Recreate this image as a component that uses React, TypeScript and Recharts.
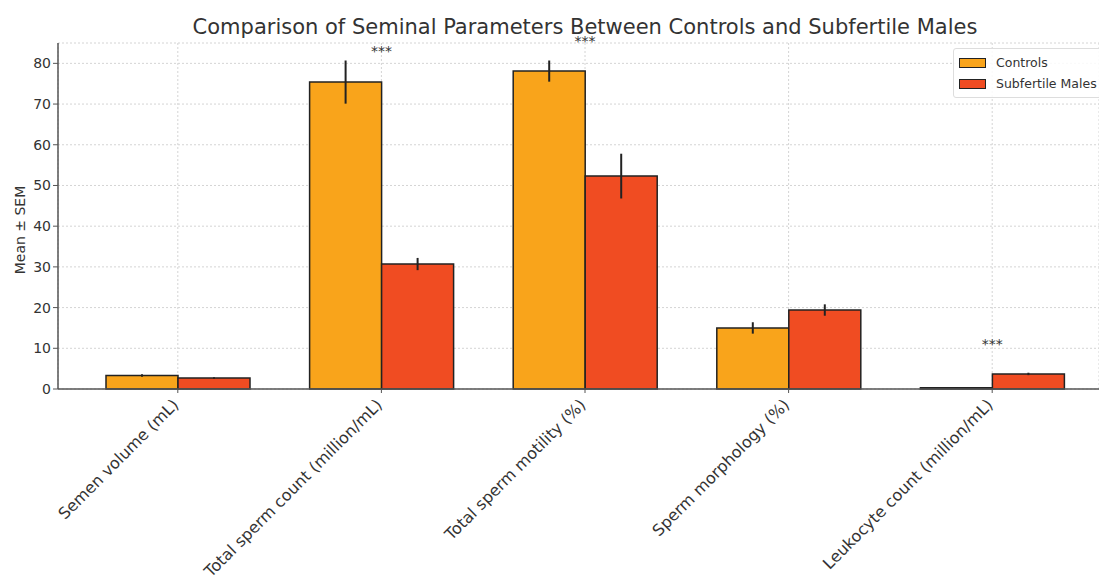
import {
  ComposedChart,
  Bar,
  XAxis,
  YAxis,
  CartesianGrid,
  ErrorBar,
  Scatter,
} from 'recharts';

const categories = [
  'Semen volume (mL)',
  'Total sperm count (million/mL)',
  'Total sperm motility (%)',
  'Sperm morphology (%)',
  'Leukocyte count (million/mL)',
];
const controls = [3.3, 75.4, 78.1, 15.0, 0.3];
const controlsSem = [0.3, 5.3, 2.6, 1.4, 0.05];
const subfertile = [2.7, 30.7, 52.3, 19.4, 3.7];
const subfertileSem = [0.2, 1.5, 5.5, 1.4, 0.3];
// baseline height of the "***" markers (null where no marker)
const stars = [null, 81.8, 84.3, null, 9.8];
const yTicks = [0, 10, 20, 30, 40, 50, 60, 70, 80];

const CONTROL_COLOR = '#F9A41B';
const SUB_COLOR = '#F04C22';
const FONT = '"DejaVu Sans", sans-serif';

const data = categories.map((name, i) => ({
  name,
  controls: controls[i],
  controlsSem: controlsSem[i],
  subfertile: subfertile[i],
  subfertileSem: subfertileSem[i],
  star: stars[i],
}));

function XTick(props: any) {
  const { x, y, payload } = props;
  return (
    <g transform={`translate(${x - 6},${y + 3})`}>
      <text
        x={0}
        y={0}
        dy={11}
        textAnchor="end"
        transform="rotate(-45)"
        fontSize={16}
        fontFamily={FONT}
        fill="#333"
      >
        {payload.value}
      </text>
    </g>
  );
}

function StarShape(props: any) {
  const { cx, cy, payload } = props;
  if (payload == null || payload.star == null || cy == null || isNaN(cy)) return null;
  return (
    <text
      x={cx}
      y={cy}
      textAnchor="middle"
      fontSize={14}
      fontFamily={FONT}
      fill="#333"
    >
      ***
    </text>
  );
}

function LegendBox() {
  const item = (color: string, label: string) => (
    <div style={{ display: 'flex', alignItems: 'center', height: 21 }}>
      <span
        style={{
          display: 'inline-block',
          width: 25,
          height: 8,
          background: color,
          border: '1px solid #222',
          marginRight: 10,
        }}
      />
      <span style={{ fontSize: 12.5, fontFamily: FONT, color: '#333' }}>{label}</span>
    </div>
  );
  return (
    <div
      style={{
        position: 'absolute',
        left: 953,
        top: 48,
        border: '1px solid #ddd',
        borderRadius: 3,
        background: 'rgba(255,255,255,0.85)',
        padding: '3px 6px 3px 5px',
        width: 155,
        boxSizing: 'border-box',
      }}
    >
      {item(CONTROL_COLOR, 'Controls')}
      {item(SUB_COLOR, 'Subfertile Males')}
    </div>
  );
}

export default function App() {
  return (
    <div
      style={{
        position: 'absolute',
        left: 0,
        top: 0,
        width: 1099,
        height: 575,
        overflow: 'hidden',
        background: '#fff',
      }}
    >
      <div
        style={{
          position: 'absolute',
          left: 0,
          width: 1170,
          top: 15,
          textAlign: 'center',
          fontSize: 21,
          fontFamily: FONT,
          color: '#333',
        }}
      >
        Comparison of Seminal Parameters Between Controls and Subfertile Males
      </div>
      <div
        style={{
          position: 'absolute',
          left: 20,
          top: 230,
          transform: 'translate(-50%, -50%) rotate(-90deg)',
          fontSize: 14,
          fontFamily: FONT,
          color: '#333',
          whiteSpace: 'nowrap',
        }}
      >
        Mean ± SEM
      </div>
      <ComposedChart
        width={1099}
        height={575}
        data={data}
        margin={{ top: 43, right: 0, bottom: 0, left: 8 }}
        barCategoryGap={30}
        barGap={0}
        style={{ position: 'absolute', left: 0, top: 0 }}
      >
        <CartesianGrid stroke="#d4d4d4" strokeDasharray="2 2" />
        <XAxis
          dataKey="name"
          type="category"
          height={186}
          padding={{ left: 18, right: 5 }}
          axisLine={{ stroke: '#555', strokeWidth: 1.5 }}
          tickLine={{ stroke: '#555' }}
          tickSize={4}
          interval={0}
          tick={<XTick />}
        />
        <YAxis
          domain={[0, 85]}
          ticks={yTicks}
          width={50}
          axisLine={{ stroke: '#555', strokeWidth: 1.5 }}
          tickLine={{ stroke: '#555' }}
          tickSize={5}
          tick={{ fontSize: 14, fontFamily: FONT, fill: '#333' }}
        />
        <Bar
          dataKey="controls"
          name="Controls"
          fill={CONTROL_COLOR}
          stroke="#222"
          strokeWidth={1.5}
          isAnimationActive={false}
        >
          <ErrorBar dataKey="controlsSem" width={0} stroke="#222" strokeWidth={2} direction="y" />
        </Bar>
        <Bar
          dataKey="subfertile"
          name="Subfertile Males"
          fill={SUB_COLOR}
          stroke="#222"
          strokeWidth={1.5}
          isAnimationActive={false}
        >
          <ErrorBar dataKey="subfertileSem" width={0} stroke="#222" strokeWidth={2} direction="y" />
        </Bar>
        <Scatter
          dataKey="star"
          shape={<StarShape />}
          legendType="none"
          isAnimationActive={false}
        />
      </ComposedChart>
      <LegendBox />
    </div>
  );
}
